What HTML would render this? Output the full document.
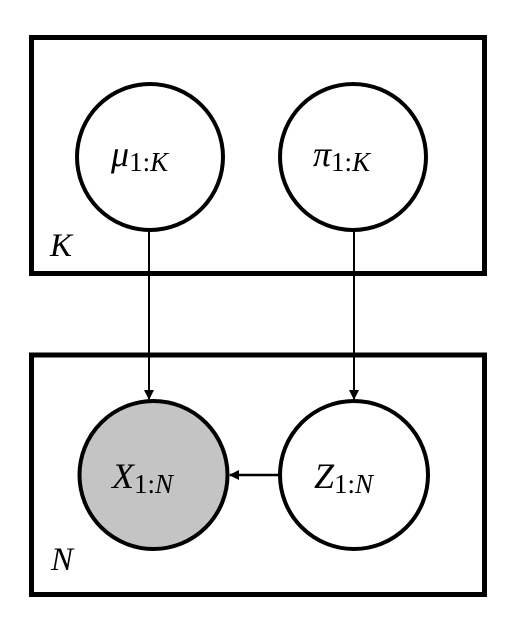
<!DOCTYPE html>
<html><head><meta charset="utf-8"><style>
html,body{margin:0;padding:0;background:#fff;width:507px;height:630px;overflow:hidden}
text{font-family:"Liberation Serif",serif;font-style:italic;fill:#000}
</style></head><body>
<svg width="507" height="630" viewBox="0 0 507 630">
<defs><marker id="ah" markerWidth="10" markerHeight="10" refX="9" refY="5" orient="auto" markerUnits="userSpaceOnUse"><path d="M0,0 L10,5 L0,10 z" fill="#000"/></marker></defs>
<rect x="31.5" y="37.5" width="453" height="236" fill="none" stroke="#000" stroke-width="5"/>
<rect x="31.5" y="355" width="453" height="239.5" fill="none" stroke="#000" stroke-width="5"/>
<line x1="149" y1="232" x2="149" y2="399" stroke="#000" stroke-width="2" marker-end="url(#ah)"/>
<line x1="354" y1="232" x2="354" y2="399" stroke="#000" stroke-width="2" marker-end="url(#ah)"/>
<line x1="278" y1="475" x2="230" y2="475" stroke="#000" stroke-width="2.5" marker-end="url(#ah)"/>
<g><circle cx="150" cy="157" r="73" fill="#fff" stroke="#000" stroke-width="4"/>
<text x="111" y="166" font-size="36">μ<tspan font-size="27" font-style="normal" dy="5">1:</tspan><tspan font-size="27">K</tspan></text></g>
<g><circle cx="353" cy="157" r="73" fill="#fff" stroke="#000" stroke-width="4"/>
<text x="313" y="166" font-size="36">π<tspan font-size="27" font-style="normal" dy="5">1:</tspan><tspan font-size="27">K</tspan></text></g>
<g><circle cx="153.5" cy="475" r="74" fill="#c4c4c4" stroke="#000" stroke-width="4"/>
<text x="112" y="488" font-size="36">X<tspan font-size="27" font-style="normal" dy="5">1:</tspan><tspan font-size="27">N</tspan></text></g>
<g><circle cx="354" cy="475" r="74" fill="#fff" stroke="#000" stroke-width="4"/>
<text x="314" y="488" font-size="36">Z<tspan font-size="27" font-style="normal" dy="5">1:</tspan><tspan font-size="27">N</tspan></text></g>
<text x="50" y="256" font-size="33">K</text>
<text x="51" y="570" font-size="33">N</text>
</svg>
</body></html>
